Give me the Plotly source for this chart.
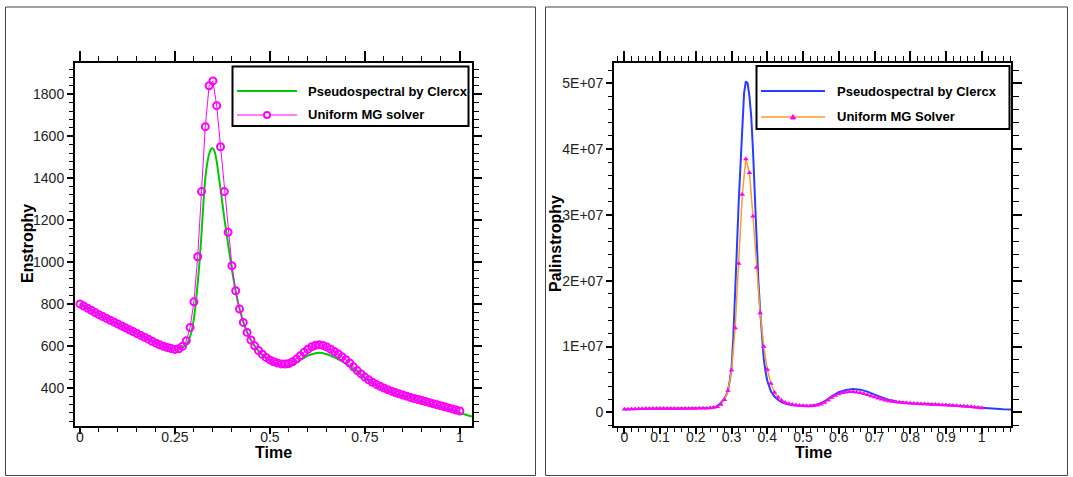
import plotly.graph_objects as go

# ---------------- data ----------------
# Left panel: enstrophy
time_mg = [round(0.01 * i, 2) for i in range(101)]
enstrophy_mg = [
    800, 790, 780, 770, 759, 749, 740, 731, 722, 713,
    704, 695, 686, 677, 668, 659, 650, 641, 632, 622,
    613, 605, 598, 592, 587, 583, 586, 598, 624, 688,
    810, 1025, 1336, 1646, 1841, 1864, 1746, 1550, 1336, 1142,
    982, 863, 776, 712, 664, 628, 600, 578, 560, 545,
    533, 524, 518, 514, 513, 516, 524, 537, 553, 569,
    584, 596, 603, 605, 602, 594, 584, 573, 561, 548,
    534, 518, 500, 482, 466, 451, 438, 426, 416, 407,
    399, 391, 384, 377, 371, 365, 360, 354, 349, 344,
    339, 334, 329, 324, 319, 314, 309, 304, 299, 294,
    289,
]
time_ps_left = [
    0, 0.05, 0.10, 0.15, 0.20,
    0.22, 0.24, 0.25, 0.26, 0.27, 0.28,
    0.285, 0.29, 0.295, 0.30, 0.305, 0.31, 0.315, 0.32, 0.325, 0.33,
    0.335, 0.34, 0.345, 0.35, 0.355, 0.36, 0.365, 0.37, 0.375, 0.38,
    0.385, 0.39, 0.395, 0.40, 0.405, 0.41, 0.415, 0.42, 0.425, 0.43,
    0.44, 0.45, 0.46, 0.47, 0.48, 0.49, 0.50, 0.51, 0.52, 0.53,
    0.54, 0.55, 0.56, 0.57, 0.58, 0.59, 0.60, 0.61, 0.62, 0.63,
    0.64, 0.65, 0.66, 0.67, 0.68, 0.69, 0.70, 0.71, 0.72, 0.73,
    0.74, 0.75, 0.76, 0.77, 0.78, 0.79, 0.80,
    0.82, 0.84, 0.86, 0.88, 0.90, 0.92, 0.94, 0.96, 0.98, 1.00,
    1.02, 1.032,
]
enstrophy_ps = [
    800, 749, 704, 659, 613,
    598, 587, 583, 585, 592, 608,
    622, 645, 678, 730, 805, 900, 1005, 1135, 1280, 1400,
    1470, 1515, 1538, 1542, 1525, 1480, 1415, 1350, 1280, 1210,
    1148, 1085, 1025, 965, 910, 860, 815, 778, 745, 715,
    665, 628, 598, 575, 556, 540, 527, 517, 510, 506,
    505, 507, 512, 521, 532, 543, 553, 560, 565, 567,
    565, 560, 553, 545, 536, 526, 515, 503, 490, 475,
    460, 446, 433, 421, 410, 400, 391,
    378, 366, 355, 345, 335, 325, 315, 304, 292, 280,
    269, 263,
]

# Right panel: palinstrophy (values in units of 1E+07)
palin_mg_e7 = [
    0.046, 0.048, 0.050, 0.052, 0.054, 0.056, 0.057, 0.058, 0.058, 0.059,
    0.059, 0.060, 0.060, 0.060, 0.060, 0.060, 0.060, 0.060, 0.060, 0.060,
    0.060, 0.061, 0.062, 0.064, 0.067, 0.072, 0.085, 0.12, 0.19, 0.33,
    0.64, 1.28, 2.26, 3.31, 3.85, 3.64, 2.98, 2.20, 1.51, 1.00,
    0.65, 0.44, 0.30, 0.23, 0.18, 0.15, 0.13, 0.12, 0.11, 0.105,
    0.100, 0.097, 0.097, 0.100, 0.108, 0.122, 0.15, 0.185, 0.225, 0.255,
    0.28, 0.297, 0.307, 0.312, 0.312, 0.306, 0.296, 0.283, 0.268, 0.25,
    0.232, 0.215, 0.198, 0.184, 0.172, 0.163, 0.156, 0.15, 0.145, 0.141,
    0.137, 0.134, 0.131, 0.128, 0.125, 0.122, 0.120, 0.118, 0.115, 0.113,
    0.110, 0.107, 0.104, 0.101, 0.097, 0.093, 0.089, 0.084, 0.078, 0.072,
    0.066,
]
time_ps_right = [
    0, 0.05, 0.10, 0.15, 0.20, 0.22, 0.24, 0.25, 0.26, 0.27,
    0.275, 0.28, 0.285, 0.29, 0.295, 0.30, 0.305, 0.31, 0.315, 0.32,
    0.325, 0.33, 0.335, 0.34, 0.345, 0.35, 0.355, 0.36, 0.365, 0.37,
    0.375, 0.38, 0.385, 0.39, 0.395, 0.40, 0.41, 0.42, 0.43, 0.44,
    0.45, 0.46, 0.48, 0.50, 0.52, 0.54, 0.56, 0.58, 0.60, 0.62,
    0.64, 0.66, 0.68, 0.70, 0.72, 0.74, 0.76, 0.78, 0.80, 0.85,
    0.90, 0.95, 1.00, 1.03, 1.06, 1.082,
]
palin_ps_e7 = [
    0.046, 0.056, 0.059, 0.060, 0.060, 0.062, 0.068, 0.076, 0.095, 0.14,
    0.17, 0.21, 0.26, 0.34, 0.48, 0.68, 1.15, 1.75, 2.5, 3.2,
    3.83, 4.45, 4.85, 5.03, 5.0, 4.8, 4.5, 3.98, 3.3, 2.6,
    2.0, 1.55, 1.15, 0.82, 0.62, 0.48, 0.32, 0.24, 0.19, 0.155,
    0.135, 0.12, 0.105, 0.098, 0.10, 0.118, 0.165, 0.245, 0.305, 0.34,
    0.354, 0.345, 0.315, 0.27, 0.225, 0.19, 0.165, 0.15, 0.14, 0.125,
    0.112, 0.092, 0.068, 0.052, 0.046, 0.045,
]
E7 = 1e7
palin_tickvals = [0, 1e7, 2e7, 3e7, 4e7, 5e7]
palin_ticktext = ["0", "1E+07", "2E+07", "3E+07", "4E+07", "5E+07"]

names_left = ["Pseudospectral by Clercx", "Uniform MG solver"]
names_right = ["Pseudospectral by Clercx", "Uniform MG Solver"]

# ---------------- figure ----------------
W, H = 1073, 477
def px(x):
    return x / W
def py(y):
    return 1 - y / H

GREEN = "#00c800"
MAGENTA = "#ff00ff"
BLUE = "#2a3cff"
ORANGE = "#ff9933"
FONT = "Liberation Sans, Arial, sans-serif"

fig = go.Figure()
fig.add_trace(go.Scatter(x=time_ps_left, y=enstrophy_ps, name=names_left[0], mode="lines",
                         line=dict(color=GREEN, width=2, shape="spline", smoothing=0.6),
                         xaxis="x", yaxis="y", showlegend=False))
fig.add_trace(go.Scatter(x=time_mg, y=enstrophy_mg, name=names_left[1], mode="lines+markers",
                         line=dict(color=MAGENTA, width=1),
                         marker=dict(symbol="circle-open", size=7, color=MAGENTA, line=dict(width=2, color=MAGENTA)),
                         xaxis="x", yaxis="y", showlegend=False))
fig.add_trace(go.Scatter(x=time_ps_right, y=[v * E7 for v in palin_ps_e7], name=names_right[0], mode="lines",
                         line=dict(color=BLUE, width=2),
                         xaxis="x2", yaxis="y2", showlegend=False))
fig.add_trace(go.Scatter(x=time_mg, y=[v * E7 for v in palin_mg_e7], name=names_right[1], mode="lines+markers",
                         line=dict(color=ORANGE, width=1.5),
                         marker=dict(symbol="triangle-up", size=5, color=MAGENTA),
                         xaxis="x2", yaxis="y2", showlegend=False))
# empty traces so the mirrored (top/right) axes are drawn
for xa, ya in [("x3", "y"), ("x", "y3"), ("x4", "y2"), ("x2", "y4")]:
    fig.add_trace(go.Scatter(x=[], y=[], xaxis=xa, yaxis=ya, showlegend=False, hoverinfo="skip"))

LX = [75, 472]
RX = [614, 1011]
YD = [py(425.5), py(62.5)]
left_xrange = [-0.013, 1.032]
left_yrange = [220, 1952]
right_xrange = [-0.029, 1.082]
right_yrange = [-0.2e7, 5.316e7]

tickfont = dict(family=FONT, size=14, color="#222")

def axis(domain, rng, dtick, mdtick, anchor, side=None, overlaying=None, labels=True,
         ticklen=6, mticklen=4, **kw):
    d = dict(domain=domain, range=rng, anchor=anchor, showgrid=False, zeroline=False,
             showline=True, linecolor="black", linewidth=2,
             ticks="outside", ticklen=ticklen, tickwidth=2, tickcolor="black",
             tick0=0, dtick=dtick, showticklabels=labels, tickfont=tickfont,
             minor=dict(dtick=mdtick, tick0=0, ticks="outside", ticklen=mticklen,
                        tickwidth=1, tickcolor="black", showgrid=False))
    if side:
        d["side"] = side
    if overlaying:
        d["overlaying"] = overlaying
    d.update(kw)
    return d

lxd = [px(LX[0]), px(LX[1])]
rxd = [px(RX[0]), px(RX[1])]

layout = dict(
    width=W, height=H, autosize=False,
    margin=dict(l=0, r=0, t=0, b=0),
    paper_bgcolor="white", plot_bgcolor="white",
    showlegend=False,
    xaxis=axis(lxd, left_xrange, 0.25, 0.05, "y", ticklabelstandoff=-8),
    yaxis=axis(YD, left_yrange, 200, 40, "x"),
    xaxis3=axis(lxd, left_xrange, 0.25, 0.05, "y", side="top", overlaying="x", labels=False,
                ticklen=10, mticklen=5),
    yaxis3=axis(YD, left_yrange, 200, 40, "x", side="right", overlaying="y", labels=False,
                ticklen=8, mticklen=5),
    xaxis2=axis(rxd, right_xrange, 0.1, 0.02, "y2", ticklabelstandoff=-8),
    yaxis2=axis(YD, right_yrange, None, 2e6, "x2", tickmode="array",
                tickvals=palin_tickvals, ticktext=palin_ticktext),
    xaxis4=axis(rxd, right_xrange, 0.1, 0.02, "y2", side="top", overlaying="x2", labels=False,
                ticklen=10, mticklen=5),
    yaxis4=axis(YD, right_yrange, None, 2e6, "x2", side="right", overlaying="y2", labels=False,
                ticklen=9, mticklen=6, tickmode="array", tickvals=palin_tickvals),
)
for k in ("yaxis2", "yaxis4"):
    layout[k].pop("dtick")
    layout[k].pop("tick0")
fig.update_layout(**layout)

shapes = []
annotations = []
# outer panel frames
shapes.append(dict(type="rect", xref="paper", yref="paper", x0=px(5.5), x1=px(535.5), y0=py(475.5), y1=py(7),
                   line=dict(color="#444", width=1), layer="below"))
shapes.append(dict(type="rect", xref="paper", yref="paper", x0=px(545.5), x1=px(1067.5), y0=py(475.5), y1=py(7),
                   line=dict(color="#444", width=1), layer="below"))

# legend boxes
def legend(box, line_x, text_x, rows, names, styles):
    shapes.append(dict(type="rect", xref="paper", yref="paper", x0=px(box[0]), x1=px(box[1]),
                       y0=py(box[3]), y1=py(box[2]), line=dict(color="black", width=2),
                       fillcolor="white"))
    for r, name, st in zip(rows, names, styles):
        shapes.append(dict(type="line", xref="paper", yref="paper", x0=px(line_x[0]), x1=px(line_x[1]),
                           y0=py(r), y1=py(r), line=dict(color=st["color"], width=st["width"])))
        if st.get("marker") == "circle":
            cx = (line_x[0] + line_x[1]) / 2
            shapes.append(dict(type="circle", xref="paper", yref="paper", x0=px(cx - 3), x1=px(cx + 3),
                               y0=py(r + 3), y1=py(r - 3), line=dict(color=MAGENTA, width=2),
                               fillcolor="white"))
        elif st.get("marker") == "triangle":
            cx = (line_x[0] + line_x[1]) / 2
            path = "M {} {} L {} {} L {} {} Z".format(px(cx - 2.5), py(r + 2), px(cx + 2.5), py(r + 2),
                                                    px(cx), py(r - 2.5))
            shapes.append(dict(type="path", xref="paper", yref="paper", path=path,
                               line=dict(color=MAGENTA, width=1), fillcolor=MAGENTA))
        annotations.append(dict(xref="paper", yref="paper", x=px(text_x), y=py(r), xanchor="left",
                                yanchor="middle", showarrow=False, text="<b>%s</b>" % name,
                                font=dict(family=FONT, size=13, color="black")))

legend([232.5, 468.5, 66.5, 126], [237, 297], 306, [91, 115], names_left,
       [dict(color=GREEN, width=2), dict(color=MAGENTA, width=1, marker="circle")])
legend([756.5, 1009.5, 66, 129], [761, 825], 835, [91, 117], names_right,
       [dict(color=BLUE, width=2), dict(color=ORANGE, width=1.5, marker="triangle")])

# axis titles
title_font = dict(family=FONT, size=16, color="black")
annotations.append(dict(xref="paper", yref="paper", x=px(273), y=py(452), text="<b>Time</b>",
                        showarrow=False, xanchor="center", yanchor="middle", font=title_font))
annotations.append(dict(xref="paper", yref="paper", x=px(813), y=py(452), text="<b>Time</b>",
                        showarrow=False, xanchor="center", yanchor="middle", font=title_font))
annotations.append(dict(xref="paper", yref="paper", x=px(27), y=py(244), text="<b>Enstrophy</b>",
                        showarrow=False, xanchor="center", yanchor="middle", textangle=-90, font=title_font))
annotations.append(dict(xref="paper", yref="paper", x=px(555), y=py(244), text="<b>Palinstrophy</b>",
                        showarrow=False, xanchor="center", yanchor="middle", textangle=-90, font=title_font))

fig.update_layout(shapes=shapes, annotations=annotations)
fig.write_html("out.html", config={"displayModeBar": False},
               post_script="document.body.style.margin='0px';document.body.style.overflow='hidden';")
